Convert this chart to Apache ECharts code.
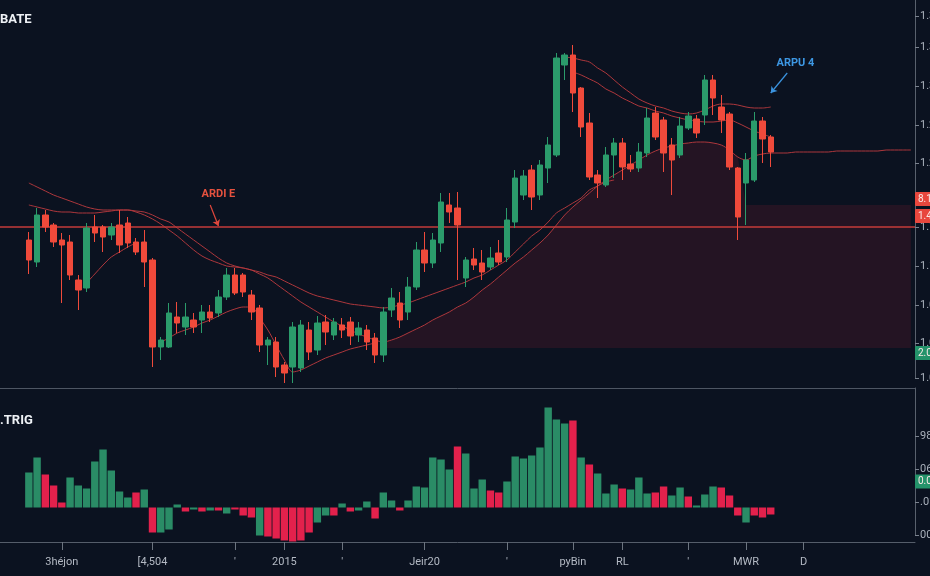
<!DOCTYPE html>
<html>
<head>
<meta charset="utf-8">
<script src="https://cdn.jsdelivr.net/npm/echarts@6/dist/echarts.min.js"></script>
<style>
html,body{margin:0;padding:0;background:#0b1220;}
#c{width:930px;height:576px;}
</style>
</head>
<body>
<div id="c"></div>
<script>
// ---------- data ----------
const CATEGORY_COUNT = 111;
const FIRST_CANDLE_CAT = 3;

const xTickCats   = [7, 18, 28, 34, 41, 51, 61, 69, 75, 83, 90, 97];
const xTickLabels = ['3héjon', '[4,504', "'", '2015', "'", 'Jeir20', "'", 'pyBin', 'RL', "'", 'MWR', 'D'];

const priceTickValues = [1370, 1339, 1300, 1261, 1223, 1159, 1120, 1081, 1043, 1008];
const volTickValues = [-27.5, 5.5, 38.5, 71.5];
const volTickLabels = ['00', '.01', '06', '98'];

// [open, close, low, high]
const candles = [
[1146,1126,1112,1154],[1124,1171,1119,1178],[1171,1159,1154,1176],[1161,1144,1139,1163],
[1146,1141,1083,1153],[1144,1111,1106,1151],[1106,1096,1076,1111],[1098,1158,1094,1163],
[1159,1153,1144,1171],[1159,1149,1134,1161],[1151,1159,1146,1163],[1161,1141,1133,1176],
[1163,1143,1138,1169],[1144,1134,1131,1148],[1144,1124,1099,1156],[1126,1039,1019,1128],
[1039,1046,1026,1049],[1039,1073,1038,1083],[1069,1063,1053,1084],[1059,1069,1051,1083],
[1066,1059,1053,1073],[1066,1074,1053,1081],[1074,1068,1064,1081],[1073,1089,1069,1096],
[1089,1111,1086,1118],[1111,1093,1091,1118],[1111,1094,1089,1113],[1091,1074,1066,1096],
[1078,1041,1034,1081],[1041,1046,1021,1049],[1044,1019,1009,1049],[1021,1013,1003,1024],
[1019,1059,1003,1064],[1018,1061,1014,1066],[1056,1034,1026,1064],[1036,1063,1031,1070],
[1064,1054,1041,1071],[1051,1064,1046,1068],[1061,1056,1048,1068],[1064,1050,1041,1069],
[1051,1058,1044,1064],[1056,1044,1036,1061],[1048,1031,1023,1053],[1031,1074,1024,1079],
[1076,1088,1069,1098],[1083,1066,1058,1094],[1074,1099,1066,1109],[1099,1136,1096,1144],
[1136,1123,1114,1154],[1123,1146,1118,1153],[1143,1184,1134,1193],[1181,1174,1163,1193],
[1178,1161,1106,1194],[1108,1126,1099,1129],[1127,1121,1116,1138],[1123,1114,1106,1136],
[1119,1128,1116,1139],[1133,1124,1121,1146],[1129,1166,1124,1178],[1164,1208,1158,1216],
[1191,1210,1186,1216],[1216,1189,1176,1221],[1191,1221,1186,1226],[1218,1241,1203,1249],
[1231,1328,1229,1333],[1321,1331,1306,1333],[1331,1293,1274,1341],[1298,1259,1249,1299],
[1263,1209,1206,1273],[1211,1203,1188,1216],[1201,1231,1199,1239],[1231,1243,1208,1248],
[1243,1219,1206,1248],[1222,1217,1214,1231],[1218,1234,1214,1243],[1233,1268,1229,1278],
[1273,1249,1246,1279],[1266,1233,1214,1269],[1241,1226,1191,1248],[1231,1260,1228,1269],
[1258,1270,1256,1274],[1267,1253,1248,1271],[1271,1306,1261,1311],[1306,1288,1271,1311],
[1279,1266,1253,1291],[1272,1219,1216,1274],[1218,1169,1146,1219],[1203,1226,1161,1233],
[1206,1265,1204,1274],[1265,1247,1223,1269],[1249,1234,1219,1251]
];

const volVals = [35,50,33,22,5,30,22,19,46,58,37,16,10,15,18,
-25,-25,-22,3,-4,-2,-4,-3,-3,-6,-2,-8,-10,-28,-29,-31,-33,-34,-33,-25,-15,-8,-8,
4,-4,-3,6,-11,15,7,-3,
7,21,20,50,48,38,61,54,19,28,17,15,26,51,49,52,60,
100,88,84,87,50,43,34,14,23,19,18,30,14,15,21,12,20,11,2,13,21,20,12,
-8,-15,-8,-10,-7];
const volUp = [1,1,0,0,0,1,1,1,1,1,1,1,1,0,1,
0,1,1,1,0,1,0,1,0,1,0,0,0,1,0,0,0,0,0,0,1,1,0,
1,0,1,1,0,1,1,0,
1,1,1,1,1,1,0,1,1,1,0,0,1,1,1,1,1,
1,1,1,0,1,0,1,1,1,0,1,1,1,0,0,1,1,0,1,1,1,0,0,
0,1,0,0,0];

const maAStart = 0;
const maA = [1203,1199,1195,1191,1188,1185,1182,1179,1177,1176,
1176,1176,1176,1175,1174,1171,1167,1164,1158,1152,
1146,1140,1134,1128,1123,1120,1118,1116,1114,1111,
1109,1105,1101,1097,1093,1090,1088,1086,1084,1082,
1081,1080,1079,1078,1079,1081,1083,1086,1089,1092,
1095,1098,1101,1104,1108,1111,1116,1121,1126,1134,
1142,1150,1156,1164,1173,1178,1183,1188,1196,1200,
1204,1206];

const maBStart = 0;
const maB = [1181,1179,1177,1175,1174,1174,1173,1173,1173,1174,
1175,1176,1176,1174,1171,1167,1162,1156,1150,1143,
1136,1130,1126,1123,1120,1119,1118,1116,1112,1108,
1102,1096,1090,1084,1079,1074,1069,1064,1060,1056,
1052,1049,1046,1044,1046,1049,1053,1057,1061,1066,
1070,1074,1079,1083,1089,1096,1102,1109,1116,1123,
1129,1136,1143,1151,1161,1171,1179,1186,1193,1200,
1206,1211,1216,1221,1226,1231,1235,1238,1240,1242,
1243,1244,1244,1243,1241,1236,1229,1226,1230,1232,
1233,1233,1233,1234,1234,1234,1234,1234,1235,1235,
1235,1235,1235,1235,1236,1236,1236,1236];

const maCStart = 7;
const maC = [1103,1112,1121,1129,1134,1139,1143,
null,null,
1044,1048,1053,1056,1059,1063,1066,1070,1074,1077,1079,1079,1068,1056,1041,1026,1014,1016,1020,1024,1028,1031,1034,1037,1039,1041,1043,
null,null,null,null,null,null,null,null,null,null,null,null,null,null,null,null,null,null,null,null,null,null,
1329,1328,1326,1324,1318,1313,1306,1299,1293,1287,1283,1280,1278,1275,1273,1272,1273,1276,1280,1282,1282,1281,1279,1278,1278,1279];

const maDStart = 66;
const maD = [1314,1311,1307,1303,1297,1293,1288,1284,1280,1278,1275,1273,1270,1268,1266,1265,1264,1264,1265,1266,1263,1259,1255,1252,1249];

const bandStart = 43;
const bandFloor = 1038;
const bandTop = [1044,1046,1049,1053,1057,1061,1066,1070,1074,1079,1083,1089,1096,1102,1109,1116,1123,1129,1136,1143,1151,1161,1171,1179,1186,1193,1200,1206,1211,1216,1221,1226,1231,1235,1238,1240,1242,1243,1244,1244,1243,1241,1236,1229,
1181,1181,1181,1181,1181,1181,1181,1181,1181,1181,1181,1181,1181,1181,1181,1181,1181,1181,1181,1181,1181];

const levelLine = 1159;
const priceTags = [
  {value: 1187, text: '8.1870', color: '#e8473d'},
  {value: 1170, text: '1.4170', color: '#e8473d'},
  {value: 1033, text: '2.0330', color: '#24936a'}
];
const volTag = {value: 26, text: '0.026', color: '#24936a'};

// ---------- build ----------
const categories = [];
for (let i = 0; i < CATEGORY_COUNT; i++) categories.push(String(i));

function placeAt(values, start, empty) {
  const out = new Array(CATEGORY_COUNT).fill(empty);
  values.forEach((v, k) => { out[FIRST_CANDLE_CAT + start + k] = (v === null ? empty : v); });
  return out;
}

const GREEN = '#2b9b6b', RED = '#f04a3b';
const VGREEN = '#2a8c66', VRED = '#e3214c';
const MA_COLOR = '#ad373c';

const candleData = placeAt(candles, 0, '-');
const volData = placeAt(volVals.map((v, i) => ({value: v, itemStyle: {color: volUp[i] ? VGREEN : VRED}})), 0, '-');
const bandBase = placeAt(bandTop.map(() => bandFloor), bandStart, null);
const bandDiff = placeAt(bandTop.map(v => v - bandFloor), bandStart, null);

function maSeries(name, arr, start) {
  return {
    name, type: 'line', xAxisIndex: 0, yAxisIndex: 0,
    data: placeAt(arr, start, null), symbol: 'none', smooth: 0.3,
    lineStyle: {color: MA_COLOR, width: 1}, connectNulls: false, silent: true, z: 3
  };
}

const FONT = 'Roboto, "DejaVu Sans", sans-serif';

const tagLabel = (t) => ({
  show: true, position: 'end', distance: 0, formatter: t.text,
  backgroundColor: t.color, color: '#fbe9e7', fontSize: 10, fontFamily: FONT,
  padding: [2, 4, 2, 3], borderRadius: 1, opacity: 1
});
const HIDDEN_LINE = {color: 'rgba(0,0,0,0)', width: 1, type: 'solid'};

const annotSeries = maSeries('maA', maA, maAStart);
annotSeries.markLine = {
  silent: true, animation: false, symbol: ['none', 'arrow'], symbolSize: 6,
  data: [
    [{coord: [25.3, 1181], lineStyle: {color: '#e0473c', width: 1.2, type: 'solid'}, label: {show: false}}, {coord: [26.4, 1160]}],
    [{coord: [94.7, 1313], lineStyle: {color: '#3b93de', width: 1.2, type: 'solid'}, label: {show: false}}, {coord: [92.8, 1293]}]
  ]
};
annotSeries.markPoint = {
  silent: true, animation: false, symbol: 'rect', symbolSize: 1,
  itemStyle: {color: 'rgba(0,0,0,0)'},
  data: [
    {coord: [26, 1192], label: {show: true, position: 'inside', formatter: 'ARDI E', color: '#e6523f', fontSize: 11, fontWeight: 'bold', fontFamily: FONT}},
    {coord: [96, 1323], label: {show: true, position: 'inside', formatter: 'ARPU 4', color: '#3d97e3', fontSize: 11, fontWeight: 'bold', fontFamily: FONT}}
  ]
};

const option = {
  backgroundColor: '#0b1220',
  animation: false,
  textStyle: {fontFamily: FONT},
  title: [
    {text: 'BATE', left: 0, top: 13, padding: 0, textStyle: {color: '#eef1f5', fontSize: 13, fontWeight: 'bold', fontFamily: FONT}},
    {text: '.TRIG', left: 0, top: 414, padding: 0, textStyle: {color: '#eef1f5', fontSize: 13, fontWeight: 'bold', fontFamily: FONT}}
  ],
  grid: [
    {left: 0, right: 15, top: 0, height: 378, containLabel: false, outerBoundsMode: 'none'},
    {left: 0, right: 15, top: 388, height: 147, containLabel: false, outerBoundsMode: 'none'}
  ],
  xAxis: [
    {type: 'category', gridIndex: 0, data: categories, boundaryGap: true, offset: 10,
     axisLine: {show: true, onZero: false, lineStyle: {color: '#4e5663', width: 1}},
     axisTick: {show: false}, axisLabel: {show: false}, splitLine: {show: false}},
    {type: 'category', gridIndex: 1, data: categories, boundaryGap: true, offset: 7,
     axisLine: {show: true, onZero: false, lineStyle: {color: '#555d6a', width: 1}},
     axisTick: {show: true, alignWithLabel: true, length: 8, lineStyle: {color: '#6c7480'},
                interval: (idx) => xTickCats.indexOf(idx) >= 0},
     axisLabel: {show: true, interval: (idx) => xTickCats.indexOf(idx) >= 0,
                 formatter: (v) => { const k = xTickCats.indexOf(Number(v)); return k >= 0 ? xTickLabels[k] : ''; },
                 color: '#b3b9c3', fontSize: 11, margin: 15, fontFamily: FONT},
     splitLine: {show: false}}
  ],
  yAxis: [
    {type: 'value', gridIndex: 0, position: 'right', min: 1008, max: 1386, scale: true,
     axisLine: {show: true, lineStyle: {color: '#59616d'}},
     axisTick: {show: true, length: 4, lineStyle: {color: '#7b838f'}, customValues: priceTickValues},
     axisLabel: {show: true, customValues: priceTickValues, formatter: (v) => (v / 1000).toFixed(4),
                 color: '#aab1bb', fontSize: 11, margin: 5, fontFamily: FONT},
     splitLine: {show: false}},
    {type: 'value', gridIndex: 1, position: 'right', min: -27.5, max: 119.5,
     axisLine: {show: true, lineStyle: {color: '#59616d'}},
     axisTick: {show: true, length: 4, lineStyle: {color: '#7b838f'}, customValues: volTickValues},
     axisLabel: {show: true, customValues: volTickValues,
                 formatter: (v) => { const k = volTickValues.indexOf(v); return k >= 0 ? volTickLabels[k] : ''; },
                 color: '#aab1bb', fontSize: 11, margin: 5, fontFamily: FONT},
     splitLine: {show: false}}
  ],
  series: [
    {name: 'bandBase', type: 'line', xAxisIndex: 0, yAxisIndex: 0, stack: 'band', data: bandBase,
     symbol: 'none', lineStyle: {opacity: 0}, silent: true, z: 1},
    {name: 'band', type: 'line', xAxisIndex: 0, yAxisIndex: 0, stack: 'band', data: bandDiff,
     symbol: 'none', lineStyle: {opacity: 0}, areaStyle: {color: 'rgba(140,30,52,0.2)', opacity: 1}, silent: true, z: 1},
    {name: 'price', type: 'candlestick', xAxisIndex: 0, yAxisIndex: 0, data: candleData,
     barWidth: '72%', clip: false, z: 5,
     itemStyle: {color: GREEN, color0: RED, borderColor: GREEN, borderColor0: RED, borderWidth: 1},
     markLine: {
       silent: true, animation: false, symbol: ['none', 'none'],
       data: [
         {yAxis: levelLine, lineStyle: {color: '#c53b3a', width: 1.5, type: 'solid'}, label: {show: false}},
         ...priceTags.map(t => ({yAxis: t.value, lineStyle: HIDDEN_LINE, label: tagLabel(t)}))
       ]
     }},
    annotSeries,
    maSeries('maB', maB, maBStart),
    maSeries('maC', maC, maCStart),
    maSeries('maD', maD, maDStart),
    {name: 'trig', type: 'bar', xAxisIndex: 1, yAxisIndex: 1, data: volData, barWidth: '90%', clip: false,
     markLine: {silent: true, animation: false, symbol: ['none', 'none'],
       data: [{yAxis: volTag.value, lineStyle: HIDDEN_LINE, label: tagLabel(volTag)}]}}
  ]
};

const chart = echarts.init(document.getElementById('c'), null, {renderer: 'canvas'});
chart.setOption(option);
</script>
</body>
</html>
